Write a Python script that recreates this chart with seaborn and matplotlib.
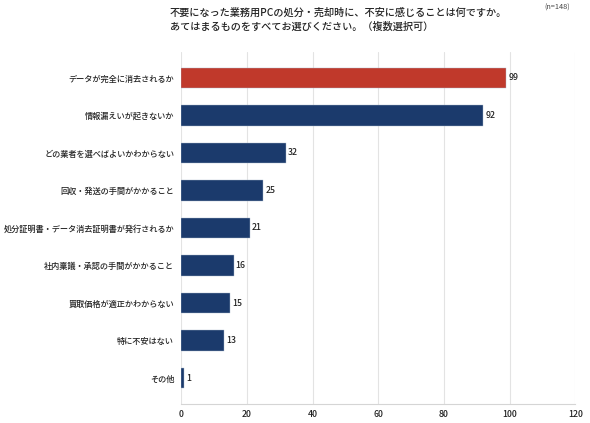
import matplotlib
matplotlib.use('Agg')
import matplotlib.pyplot as plt
import pandas as pd
import seaborn as sns

# answers and counts
categories = ['データが完全に消去されるか', '情報漏えいが起きないか', 'どの業者を選べばよいかわからない',
              '回収・発送の手間がかかること', '処分証明書・データ消去証明書が発行されるか',
              '社内稟議・承認の手間がかかること', '買取価格が適正かわからない', '特に不安はない', 'その他']
counts = [99, 92, 32, 25, 21, 16, 15, 13, 1]
xticks = [0, 20, 40, 60, 80, 100, 120]

df = pd.DataFrame({'answer': categories, 'count': counts})

sns.set_theme(style='white')
plt.rcParams['font.family'] = ['Noto Sans CJK JP', 'DejaVu Sans']

fig = plt.figure(figsize=(5.9, 4.23), dpi=100)
ax = fig.add_axes([0.307, 0.045, 0.668, 0.832])

colors = ['#c0392b'] + ['#1b3a6c'] * (len(categories) - 1)
sns.barplot(data=df, x='count', y='answer', hue='answer', palette=colors, saturation=1,
            legend=False, width=0.54, ax=ax, edgecolor='#a9b8cc', linewidth=0.3)

for i, v in enumerate(counts):
    ax.text(v + 0.6, i, str(v), va='center', ha='left', fontsize=6.3, fontweight='medium', color='#222222')

ax.set_xlim(0, 120)
ax.set_ylim(8.69, -0.69)
ax.set_xticks(xticks)
ax.tick_params(axis='x', labelsize=6.3, length=2, color='#cccccc', pad=2, labelcolor='#222222')
ax.tick_params(axis='y', labelsize=5.9, length=0, pad=5, labelcolor='#222222')
for lab in ax.get_yticklabels() + ax.get_xticklabels():
    lab.set_fontweight('medium')
ax.set_xlabel('')
ax.set_ylabel('')
ax.xaxis.grid(True, color='#e3e3e3', linewidth=0.8)
ax.set_axisbelow(True)
for s in ['top', 'right', 'left']:
    ax.spines[s].set_visible(False)
ax.spines['bottom'].set_color('#d5d5d5')
ax.spines['bottom'].set_linewidth(0.8)

fig.text(0.288, 0.971, '不要になった業務用PCの処分・売却時に、不安に感じることは何ですか。',
         fontsize=7.3, fontweight='medium', color='#222222', va='center')
fig.text(0.288, 0.936, 'あてはまるものをすべてお選びください。（複数選択可）',
         fontsize=7.3, fontweight='medium', color='#222222', va='center')
fig.text(0.922, 0.981, '(n=148)', fontsize=5.3, color='#444444', va='center')

fig.savefig('out.png', dpi=100)
